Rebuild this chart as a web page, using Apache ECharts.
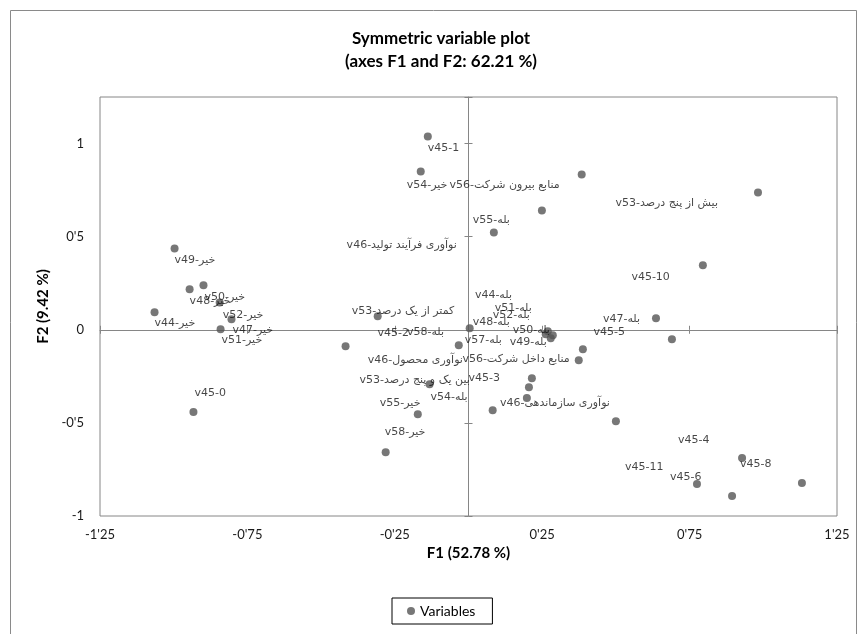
<!DOCTYPE html>
<html><head><meta charset="utf-8">
<script src="https://cdn.jsdelivr.net/npm/echarts@6/dist/echarts.min.js"></script>
<style>html,body{margin:0;padding:0;background:#fff}#c{width:863px;height:634px}</style>
</head><body><div id="c"></div>
<script>
// ---- data ----
const names = [
  'v49-خیر','v48-خیر','v50-خیر','v52-خیر','v44-خیر','v47-خیر','v51-خیر',
  'v45-0','v45-1','v54-خیر','v56-منابع بیرون شرکت','v55-بله','v46-نوآوری فرآیند تولید',
  'v53-بیش از پنج درصد','v45-10','v47-بله','v45-5','v53-کمتر از یک درصد','v45-2',
  'v48-بله','v57-بله','v54-بله','v53-بین یک و پنج درصد','v55-خیر','v58-خیر',
  'v50-بله','v49-بله','v51-بله','v52-بله','v44-بله','v56-منابع داخل شرکت','v45-3',
  'v46-نوآوری سازماندهی','v58-بله','v46-نوآوری محصول','v45-8','v45-6','v45-11','v45-4'
];
const f1 = [
  -0.997,-0.946,-0.899,-0.844,-1.065,-0.804,-0.841,
  -0.933,-0.138,-0.162,0.384,0.249,0.086,
  0.982,0.795,0.636,0.690,-0.308,-0.417,
  0.004,-0.033,0.082,-0.132,-0.172,-0.281,
  0.269,0.279,0.262,0.286,0.388,0.374,0.215,
  0.500,0.205,0.198,0.928,0.775,0.894,1.131
];
const f2 = [
  0.437,0.217,0.239,0.147,0.094,0.056,0.003,
  -0.442,1.038,0.850,0.834,0.641,0.523,
  0.737,0.346,0.062,-0.051,0.072,-0.088,
  0.008,-0.083,-0.432,-0.292,-0.453,-0.657,
  -0.008,-0.046,-0.024,-0.029,-0.105,-0.164,-0.260,
  -0.491,-0.308,-0.367,-0.689,-0.828,-0.893,-0.823
];
const seriesName = 'Variables';
const xTickValues = [-1.25,-0.75,-0.25,0.25,0.75,1.25];
const xTickLabels = ["-1'25","-0'75","-0'25","0'25","0'75","1'25"];
const yTickValues = [-1,-0.5,0,0.5,1];
const yTickLabels = ["-1","-0'5","0","0'5","1"];

// ---- label placement (style only): [align, dx, dy] in px from the dot ----
const labelPlace = [
  ['left',0,12],['left',0,12],['left',1,12],['left',3,13],['left',0,11],['left',1,11],['left',1,11],
  ['left',1,-19],['left',0,12],['left',-14,14],['right',-22,11],['right',-32,10],['right',-37,13],
  ['right',-40,11],['right',-33,12],['right',-16,1],['right',-47,-7],['left',-26,-5],['left',32,-13],
  ['left',3,-6],['left',6,-5],['right',-25,-13],['left',-70,-4],['left',-38,-11],['left',-1,-20],
  ['left',-35,-1],['left',-41,4],['left',-51,-26],['left',-60,-20],['left',-108,-54],['right',-9,-1],['right',-32,0],
  ['right',-6,-18],['left',-122,-55],['right',-64,-38],['left',-2,6],['left',-27,-7],['left',-107,-29],['left',-124,-43]
];

function tickFmt(vals, labels) {
  return function (v) {
    for (let i = 0; i < vals.length; i++) if (Math.abs(v - vals[i]) < 1e-6) return labels[i];
    return '';
  };
}

const axisGrey = '#868686';
const chart = echarts.init(document.getElementById('c'), null, {renderer: 'canvas'});

const points = names.map((n, i) => ({
  name: n,
  value: [f1[i], f2[i]],
  label: {
    show: true,
    formatter: n,
    position: 'inside',
    align: labelPlace[i][0],
    verticalAlign: 'middle',
    offset: [labelPlace[i][1], labelPlace[i][2]],
    color: '#161616',
    fontFamily: 'DejaVu Sans',
    fontSize: 11,
    textBorderWidth: 0
  }
}));

const baseX = {type: 'value', min: -1.25, max: 1.25, interval: 0.5, position: 'bottom', splitLine: {show: false}};
const baseY = {type: 'value', min: -1, max: 1.25, interval: 0.5, position: 'left', splitLine: {show: false}};

chart.setOption({
  animation: false,
  backgroundColor: '#fff',
  grid: {left: 100, right: 26, top: 97, bottom: 118, show: true, borderColor: axisGrey, borderWidth: 1, backgroundColor: 'transparent'},
  graphic: [
    {type: 'rect', shape: {x: 10.5, y: 10.5, width: 846, height: 700}, style: {fill: 'none', stroke: '#8a8a8a', lineWidth: 1}, silent: true, z: -1},
    {type: 'text', x: 441, y: 39, style: {text: 'Symmetric variable plot', fontFamily: 'Lato', fontWeight: 'bold', fontSize: 17, fill: '#000', align: 'center', verticalAlign: 'middle'}},
    {type: 'text', x: 441, y: 62, style: {text: '(axes F1 and F2: 62.21 %)', fontFamily: 'Lato', fontWeight: 'bold', fontSize: 17, fill: '#000', align: 'center', verticalAlign: 'middle'}}
  ],
  legend: {
    data: [seriesName], left: 392, top: 598, orient: 'horizontal',
    icon: 'circle', itemWidth: 8, itemHeight: 8, itemGap: 6,
    padding: [6, 17, 6, 15], borderColor: '#000', borderWidth: 1,
    textStyle: {fontFamily: 'Lato', fontSize: 14, color: '#000'}
  },
  xAxis: [
    Object.assign({}, baseX, {
      axisLine: {show: false, onZero: false}, axisTick: {show: false},
      axisLabel: {show: true, margin: 12, formatter: tickFmt(xTickValues, xTickLabels), fontFamily: 'Lato', fontSize: 13, color: '#1a1a1a'},
      name: 'F1 (52.78 %)', nameLocation: 'middle', nameGap: 30,
      nameTextStyle: {fontFamily: 'Lato', fontWeight: 'bold', fontSize: 15, color: '#000'}
    }),
    Object.assign({}, baseX, {
      axisLine: {show: true, onZero: true, onZeroAxisIndex: 0, lineStyle: {color: axisGrey, width: 1}},
      axisTick: {show: true, inside: false, length: 4, lineStyle: {color: axisGrey}}, axisLabel: {show: false}
    }),
    Object.assign({}, baseX, {
      axisLine: {show: false, onZero: true, onZeroAxisIndex: 0},
      axisTick: {show: true, inside: true, length: 4, lineStyle: {color: axisGrey}}, axisLabel: {show: false}
    })
  ],
  yAxis: [
    Object.assign({}, baseY, {
      axisLine: {show: false, onZero: false}, axisTick: {show: false},
      axisLabel: {show: true, margin: 16, formatter: tickFmt(yTickValues, yTickLabels), fontFamily: 'Lato', fontSize: 13, color: '#1a1a1a'},
      name: 'F2 (9.42 %)', nameLocation: 'middle', nameGap: 45,
      nameTextStyle: {fontFamily: 'Lato', fontWeight: 'bold', fontSize: 15, color: '#000'}
    }),
    Object.assign({}, baseY, {
      axisLine: {show: true, onZero: true, onZeroAxisIndex: 0, lineStyle: {color: axisGrey, width: 1}},
      axisTick: {show: true, inside: false, length: 4, lineStyle: {color: axisGrey}}, axisLabel: {show: false}
    }),
    Object.assign({}, baseY, {
      axisLine: {show: false, onZero: true, onZeroAxisIndex: 0},
      axisTick: {show: true, inside: true, length: 4, lineStyle: {color: axisGrey}}, axisLabel: {show: false}
    })
  ],
  series: [{
    name: seriesName, type: 'scatter', xAxisIndex: 0, yAxisIndex: 0,
    symbol: 'circle', symbolSize: 8,
    itemStyle: {color: '#555555'},
    emphasis: {disabled: true},
    data: points
  }]
});
</script></body></html>
